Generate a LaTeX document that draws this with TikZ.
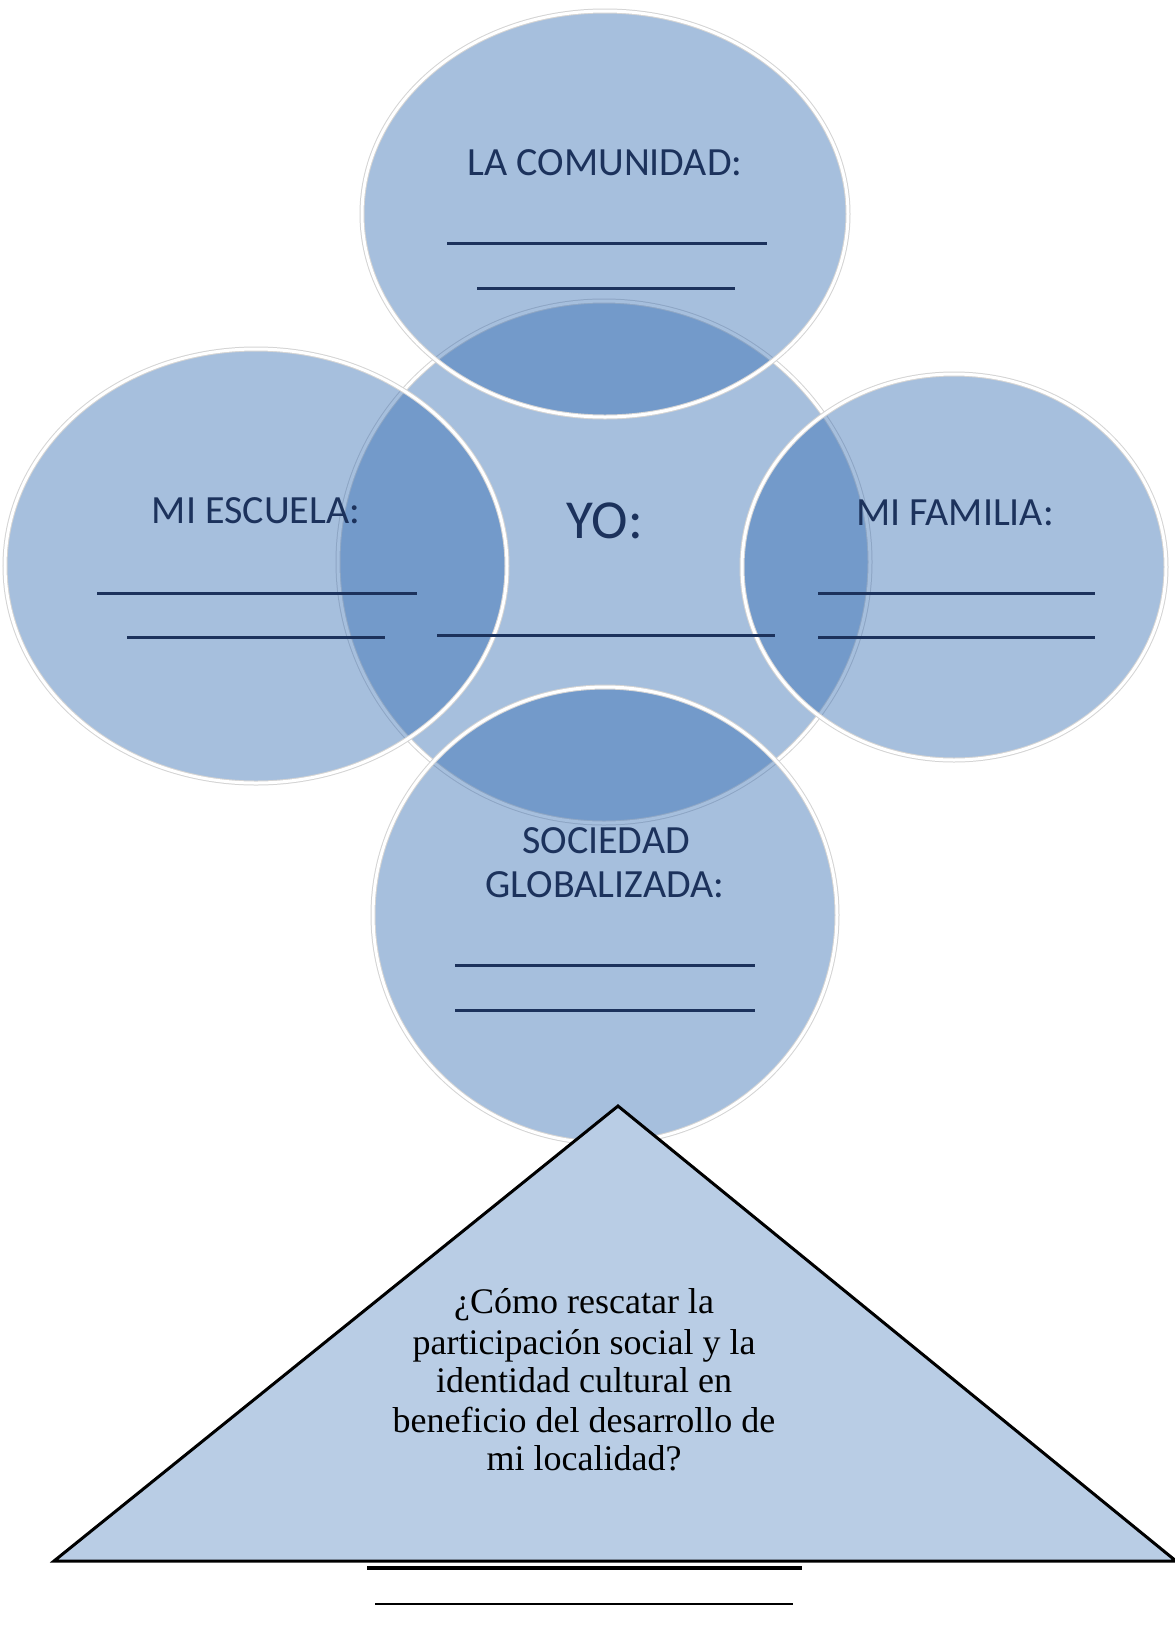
\documentclass[tikz,border=0pt]{standalone}
\usepackage{fontspec}
\setmainfont{Liberation Serif}
\newfontfamily\calibri{Carlito}
\definecolor{vennblue}{RGB}{45,103,176}
\definecolor{trifill}{RGB}{185,205,229}
\definecolor{navy}{RGB}{28,50,92}
\definecolor{halo}{RGB}{212,212,212}
\begin{document}
\begin{tikzpicture}[x=1pt,y=-1pt,
  venn/.style={fill=vennblue,fill opacity=0.42},
  rimhalo/.style={draw=halo,line width=5pt},
  rim/.style={draw=white,line width=3pt},
  lbl/.style={font=\calibri\fontsize{40}{44}\selectfont,text=navy,anchor=base,inner sep=0pt},
  bigl/.style={font=\calibri\fontsize{55}{60}\selectfont,text=navy,anchor=base,inner sep=0pt},
  blank/.style={draw=navy,line width=3pt},
  qtext/.style={font=\fontsize{36}{40}\selectfont,text=black,anchor=base,inner sep=0pt}]
\useasboundingbox (0,0) rectangle (1175,1644);
\fill[white] (0,0) rectangle (1175,1644);

% central circle (drawn first)
\fill[venn] (604,562) ellipse [x radius=266, y radius=261];
\draw[rimhalo] (604,562) ellipse [x radius=266, y radius=261];
\draw[rim] (604,562) ellipse [x radius=266, y radius=261];

% outer circles
\foreach \cx/\cy/\rx/\ry in {605/214/243/203, 256/566/251/217, 954/567/212/193, 605/915/232/228}{
  \fill[venn] (\cx,\cy) ellipse [x radius=\rx, y radius=\ry];
  \draw[rimhalo] (\cx,\cy) ellipse [x radius=\rx, y radius=\ry];
  \draw[rim] (\cx,\cy) ellipse [x radius=\rx, y radius=\ry];
}

% labels
\node[lbl] (comunidad) at (605,175) {LA COMUNIDAD:};
\node[lbl] (escuela) at (256,523) {MI ESCUELA:};
\node[bigl] (yo) at (605,538) {YO:};
\node[lbl] (familia) at (955,525) {MI FAMILIA:};
\node[lbl] (sociedad) at (606,853) {SOCIEDAD};
\node[lbl] (global) at (605,897) {GLOBALIZADA:};

% blank lines
\coordinate (t1a) at (447,243); \coordinate (t1b) at (767,243);
\coordinate (t2a) at (477,288); \coordinate (t2b) at (735,288);
\coordinate (l1a) at (97,593);  \coordinate (l1b) at (417,593);
\coordinate (l2a) at (127,637); \coordinate (l2b) at (385,637);
\coordinate (c1a) at (437,635); \coordinate (c1b) at (775,635);
\coordinate (r1a) at (818,593); \coordinate (r1b) at (1095,593);
\coordinate (r2a) at (818,637); \coordinate (r2b) at (1095,637);
\coordinate (b1a) at (455,965); \coordinate (b1b) at (755,965);
\coordinate (b2a) at (455,1010); \coordinate (b2b) at (755,1010);
\foreach \p in {t1,t2,l1,l2,c1,r1,r2,b1,b2}{\draw[blank] (\p a) -- (\p b);}

% triangle
\coordinate (apex) at (618,1106);
\coordinate (bl) at (54,1561);
\coordinate (br) at (1176,1561);
\filldraw[fill=trifill,draw=black,line width=3pt,line join=miter] (apex) -- (bl) -- (br) -- cycle;

\node[qtext] (q1) at (584,1313) {¿Cómo rescatar la};
\node[qtext] (q2) at (584,1354) {participación social y la};
\node[qtext] (q3) at (584,1392) {identidad cultural en};
\node[qtext] (q4) at (584,1432) {beneficio del desarrollo de};
\node[qtext] (q5) at (584,1470) {mi localidad?};

% answer lines below
\coordinate (u1a) at (367,1568); \coordinate (u1b) at (802,1568);
\coordinate (u2a) at (375,1604); \coordinate (u2b) at (793,1604);
\draw[line width=4pt] (u1a) -- (u1b);
\draw[line width=2.2pt] (u2a) -- (u2b);
\end{tikzpicture}
\end{document}
